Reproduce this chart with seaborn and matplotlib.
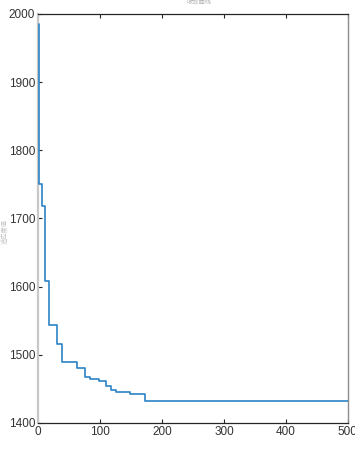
import matplotlib
matplotlib.use("Agg")
import matplotlib.pyplot as plt
import seaborn as sns
import pandas as pd
from matplotlib import font_manager

# Best-so-far objective value: iteration where it changes and the new value
change_iter = [1, 2, 7, 11, 18, 31, 39, 63, 76, 84, 98, 109, 117, 126, 149, 172, 500]
best_value = [1985, 1750, 1718, 1608, 1544, 1516, 1490, 1480, 1468, 1464, 1462,
              1455, 1448, 1446, 1442, 1432, 1432]

x_ticks = [0, 100, 200, 300, 400, 500]
y_ticks = [1400, 1500, 1600, 1700, 1800, 1900, 2000]

sns.set_theme(style="white")
names = {f.name for f in font_manager.fontManager.ttflist}
tick_font = "Liberation Sans Narrow" if "Liberation Sans Narrow" in names else "Liberation Sans"
plt.rcParams["font.family"] = [tick_font, "Noto Sans CJK SC", "DejaVu Sans"]

df = pd.DataFrame({"iter": change_iter, "best": best_value})

fig = plt.figure(figsize=(3.55, 4.5), dpi=100)
ax = fig.add_axes([0.107, 0.06, 0.873, 0.909])

sns.lineplot(data=df, x="iter", y="best", ax=ax, color="#2b83c6",
             linewidth=1.2, drawstyle="steps-post", zorder=5)

ax.set_xlim(0, 500)
ax.set_ylim(1400, 2000)
ax.set_xticks(x_ticks)
ax.set_yticks(y_ticks)
ax.set_xlabel("")
ax.set_ylabel("")
ax.tick_params(axis="both", which="both", direction="in", length=3, width=0.8,
               color="#262626", labelsize=8.5, labelcolor="#333333", pad=2,
               top=True, bottom=True, left=True, right=False)

for side in ("top", "bottom"):
    ax.spines[side].set_color("#262626")
    ax.spines[side].set_linewidth(0.9)
ax.spines["left"].set_color("#c8c8c8")
ax.spines["left"].set_linewidth(1.6)
ax.spines["right"].set_color("#8c8c8c")
ax.spines["right"].set_linewidth(1.0)

# Faint, partly clipped title and y label
fig.text(0.56, 0.994, "收敛曲线", ha="center", va="center", fontsize=4.5,
         color="#b0b0b0", family=["Noto Sans CJK SC", "DejaVu Sans"])
fig.text(0.014, 0.485, "适应度值", ha="center", va="center", fontsize=4.5,
         rotation=90, color="#c0c0c0", family=["Noto Sans CJK SC", "DejaVu Sans"])

fig.savefig("out.png", dpi=100, facecolor="white")
